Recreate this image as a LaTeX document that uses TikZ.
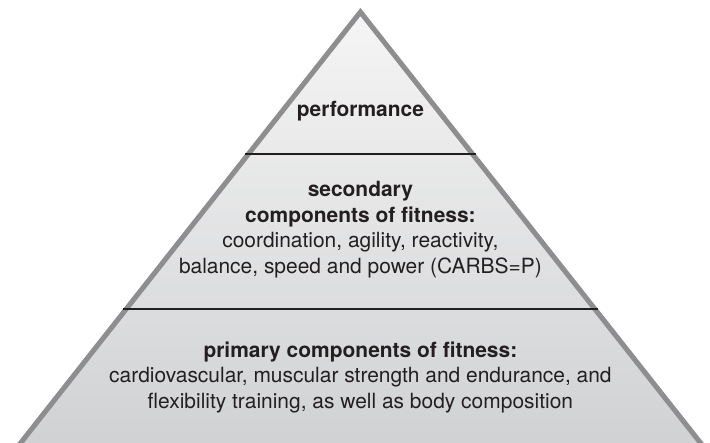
\documentclass[tikz,border=0pt]{standalone}
\usepackage{fontspec}
\setmainfont{TeX Gyre Heros}
\usepackage{tikz}
\usetikzlibrary{calc}
\usepackage{xcolor}

\definecolor{edgegray}{RGB}{142,142,144}
\definecolor{fillTop}{RGB}{245,245,245}
\definecolor{fillBottom}{RGB}{207,208,210}
\definecolor{inkdark}{RGB}{35,31,32}

\begin{document}
\begin{tikzpicture}[
    tier/.style={anchor=base, align=center, text=inkdark, inner sep=0pt,
      font=\fontsize{14.9}{18.1}\selectfont},
    divider/.style={draw=inkdark, line width=1.1pt}
  ]
  \useasboundingbox (0,0) rectangle (17.75,11.05);
  \clip (0,0) rectangle (17.75,11.05);

  % Pyramid corners (base runs past the bottom edge)
  \coordinate (apex) at (9.01,10.75);
  \coordinate (baseL) at (0.14,-0.5);
  \coordinate (baseR) at (17.89,-0.5);

  % Shaded body and grey outline
  \shade[top color=fillTop, bottom color=fillBottom] (apex) -- (baseL) -- (baseR) -- cycle;
  \draw[edgegray, line width=3.6pt, line join=miter] (apex) -- (baseL) -- (baseR) -- cycle;

  % Tier dividers
  \coordinate (upperL) at (6.13,7.2);
  \coordinate (upperR) at (11.89,7.2);
  \coordinate (lowerL) at (3.07,3.325);
  \coordinate (lowerR) at (14.95,3.325);
  \draw[divider] (upperL) -- (upperR);
  \draw[divider] (lowerL) -- (lowerR);

  % Tier labels (base = last line)
  \node[tier] (perf) at (9.01,8.13) {\textbf{performance}};
  \node[tier] (secondary) at (9.01,4.22)
    {\textbf{secondary}\\ \textbf{components of fitness:}\\
     coordination, agility, reactivity,\\ balance, speed and power (CARBS=P)};
  \node[tier] (primary) at (9.01,0.85)
    {\textbf{primary components of fitness:}\\
     cardiovascular, muscular strength and endurance, and\\
     flexibility training, as well as body composition};
\end{tikzpicture}
\end{document}
